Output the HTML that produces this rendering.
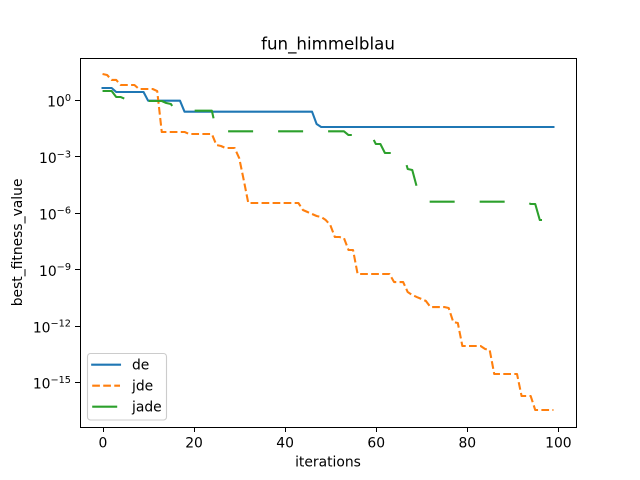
<!DOCTYPE html>
<html lang="en">
<head>
<meta charset="utf-8">
<title>fun_himmelblau</title>
<style>
html,body{margin:0;padding:0;background:#fff;width:640px;height:480px;overflow:hidden}
svg{display:block}
text{font-family:"DejaVu Sans","Liberation Sans",sans-serif;fill:#000}
</style>
</head>
<body>
<svg id="chart" xmlns="http://www.w3.org/2000/svg" width="640" height="480" viewBox="0 0 640 480">
<rect x="0" y="0" width="640" height="480" fill="#fff"/>
<g id="series"></g>
<g id="xticks"></g>
<g id="yticks"></g>
<g stroke="#000" stroke-width="1" shape-rendering="crispEdges">
<line x1="80.5" y1="58" x2="80.5" y2="428"/>
<line x1="576.5" y1="58" x2="576.5" y2="428"/>
<line x1="80" y1="58.5" x2="577" y2="58.5"/>
<line x1="80" y1="427.5" x2="577" y2="427.5"/>
</g>
<text x="328" y="49.5" text-anchor="middle" font-size="16.67">fun_himmelblau</text>
<text x="328" y="466.5" text-anchor="middle" font-size="13.89">iterations</text>
<text transform="translate(22,242.4) rotate(-90)" text-anchor="middle" font-size="13.89">best_fitness_value</text>
<g>
<rect x="87.5" y="353.5" width="79" height="66.5" rx="3" ry="3" fill="#fff" fill-opacity="0.8" stroke="#ccc" stroke-width="1.1"/>
<line x1="92.2" y1="364.7" x2="120" y2="364.7" stroke="#1f77b4" stroke-width="2.08" stroke-linecap="square"/>
<text x="132" y="369.7" font-size="13.89">de</text>
<line x1="92.2" y1="385.7" x2="120" y2="385.7" stroke="#ff7f0e" stroke-width="2.08" stroke-dasharray="7.7 3.33"/>
<text x="132" y="390.5" font-size="13.89">jde</text>
<line x1="92.2" y1="406.7" x2="120" y2="406.7" stroke="#2ca02c" stroke-width="2.08" stroke-dasharray="25 25"/>
<text x="132" y="411.5" font-size="13.89">jade</text>
</g>
</svg>
<script>
const deValues = [4.34,4.34,4.34,2.66,2.66,2.66,2.66,2.66,2.66,2.66,0.918,0.918,0.918,0.918,0.918,0.918,0.918,0.918,0.239,0.239,0.239,0.239,0.239,0.239,0.239,0.239,0.239,0.239,0.239,0.239,0.239,0.239,0.239,0.239,0.239,0.239,0.239,0.239,0.239,0.239,0.239,0.239,0.239,0.239,0.239,0.239,0.239,0.0531,0.0367,0.0367,0.0367,0.0367,0.0367,0.0367,0.0367,0.0367,0.0367,0.0367,0.0367,0.0367,0.0367,0.0367,0.0367,0.0367,0.0367,0.0367,0.0367,0.0367,0.0367,0.0367,0.0367,0.0367,0.0367,0.0367,0.0367,0.0367,0.0367,0.0367,0.0367,0.0367,0.0367,0.0367,0.0367,0.0367,0.0367,0.0367,0.0367,0.0367,0.0367,0.0367,0.0367,0.0367,0.0367,0.0367,0.0367,0.0367,0.0367,0.0367,0.0367,0.0367];
const jdeValues = [24,21.3,11.6,11.6,6.26,6.26,6.26,6.26,3.84,3.84,3.84,3.84,3.0,0.02,0.02,0.02,0.02,0.02,0.02,0.0156,0.0156,0.0156,0.0156,0.0156,0.0156,0.00406,0.0036,0.00282,0.00282,0.00282,8.28e-4,5.61e-5,3.37e-6,3.37e-6,3.37e-6,3.37e-6,3.37e-6,3.37e-6,3.37e-6,3.37e-6,3.37e-6,3.37e-6,3.37e-6,3.37e-6,1.43e-6,1.12e-6,8.77e-7,6.86e-7,6.07e-7,4.2e-7,2.28e-7,5.25e-8,5.25e-8,4.65e-8,1.07e-8,1.07e-8,5.68e-10,5.68e-10,5.68e-10,5.68e-10,5.68e-10,5.68e-10,5.68e-10,5.68e-10,2.13e-10,2.13e-10,2.13e-10,6.28e-11,4.35e-11,3.4e-11,2.7e-11,2.09e-11,1e-11,1e-11,1e-11,1e-11,8.87e-12,1.6e-12,1.42e-12,8.49e-14,8.49e-14,8.49e-14,8.49e-14,8.49e-14,5.88e-14,5.2e-14,2.76e-15,2.76e-15,2.76e-15,2.76e-15,2.76e-15,2.76e-15,1.87e-16,1.87e-16,1.87e-16,3.37e-17,3.37e-17,3.37e-17,3.37e-17,3.37e-17];
const jadeValues = [3.0,3.0,3.0,1.44,1.44,1.13,1.13,1.13,1.13,1.13,0.885,0.885,0.885,0.885,0.693,0.613,0.27,0.27,0.27,0.27,0.27,0.27,0.27,0.27,0.27,0.0217,0.0217,0.0217,0.0217,0.0217,0.0217,0.0217,0.0217,0.0217,0.0217,0.0217,0.0217,0.0217,0.0217,0.0217,0.0217,0.0217,0.0217,0.0217,0.0217,0.0217,0.0217,0.0217,0.0217,0.0217,0.0217,0.0217,0.0217,0.0217,0.0138,0.0138,0.0138,0.0138,0.0138,0.0138,0.00459,0.00459,0.00153,0.00153,0.00153,0.00153,0.00153,2.16e-4,1.91e-4,2.38e-5,2.38e-5,3.94e-6,3.94e-6,3.94e-6,3.94e-6,3.94e-6,3.94e-6,3.94e-6,3.94e-6,3.94e-6,3.94e-6,3.94e-6,3.94e-6,3.94e-6,3.94e-6,3.94e-6,3.94e-6,3.94e-6,3.94e-6,3.94e-6,3.94e-6,3.94e-6,3.94e-6,3.94e-6,2.98e-6,2.98e-6,4.2e-7,4.2e-7,4.2e-7,4.2e-7];
const xTickLabels = [0,20,40,60,80,100];
const yTickExponents = [0,-3,-6,-9,-12,-15];

const NS = 'http://www.w3.org/2000/svg';
const plot = {left:80, right:576, top:57.6, bottom:427.2};
const xDomain = [-4.95, 103.95];
const logDomain = [-17.385, 2.253];

function xScale(i){
  return plot.left + (i - xDomain[0]) / (xDomain[1] - xDomain[0]) * (plot.right - plot.left);
}
function yScale(v){
  return plot.bottom - (Math.log10(v) - logDomain[0]) / (logDomain[1] - logDomain[0]) * (plot.bottom - plot.top);
}
function svgEl(tag, attrs){
  const el = document.createElementNS(NS, tag);
  for (const k in attrs) el.setAttribute(k, attrs[k]);
  return el;
}
function seriesPath(values){
  return values.map((v, i) => (i ? 'L' : 'M') + xScale(i).toFixed(2) + ' ' + yScale(v).toFixed(2)).join(' ');
}

const seriesGroup = document.getElementById('series');

const dePath = svgEl('path', {d: seriesPath(deValues), fill:'none', stroke:'#1f77b4', 'stroke-width':2.08, 'stroke-linejoin':'round', 'stroke-linecap':'square'});


seriesGroup.appendChild(dePath);

const jdePath = svgEl('path', {d: seriesPath(jdeValues), fill:'none', stroke:'#ff7f0e', 'stroke-width':2.08, 'stroke-linejoin':'round', 'stroke-dasharray':'7.7 3.33'});


seriesGroup.appendChild(jdePath);

const jadePath = svgEl('path', {d: seriesPath(jadeValues), fill:'none', stroke:'#2ca02c', 'stroke-width':2.08, 'stroke-linejoin':'round', 'stroke-dasharray':'25 25'});


seriesGroup.appendChild(jadePath);

const xTicksGroup = document.getElementById('xticks');
xTickLabels.forEach(t => {
  const px = Math.round(xScale(t)) + 0.5;
  const tick = svgEl('line', {x1:px, x2:px, y1:428, y2:432, stroke:'#000', 'stroke-width':1, 'shape-rendering':'crispEdges'});
  
  
  xTicksGroup.appendChild(tick);
  const label = svgEl('text', {x:xScale(t) + 0.4, y:447.5, 'text-anchor':'middle', 'font-size':13.89});
  
  
  label.textContent = String(t);
  xTicksGroup.appendChild(label);
});

const yTicksGroup = document.getElementById('yticks');
yTickExponents.forEach(e => {
  const py = yScale(Math.pow(10, e));
  const snapped = Math.round(py) + 0.5;
  const tick = svgEl('line', {x1:75, x2:80, y1:snapped, y2:snapped, stroke:'#000', 'stroke-width':1, 'shape-rendering':'crispEdges'});
  
  
  yTicksGroup.appendChild(tick);
  const label = svgEl('text', {x:71, y:py + 6.4, 'text-anchor':'end', 'font-size':13.89});
  
  
  const base = svgEl('tspan', {});
  base.textContent = '10';
  const sup = svgEl('tspan', {dy:-5.6, 'font-size':9.72});
  sup.textContent = (e < 0 ? '\u2212' : '') + Math.abs(e);
  label.appendChild(base);
  label.appendChild(sup);
  yTicksGroup.appendChild(label);
});
</script>
</body>
</html>
